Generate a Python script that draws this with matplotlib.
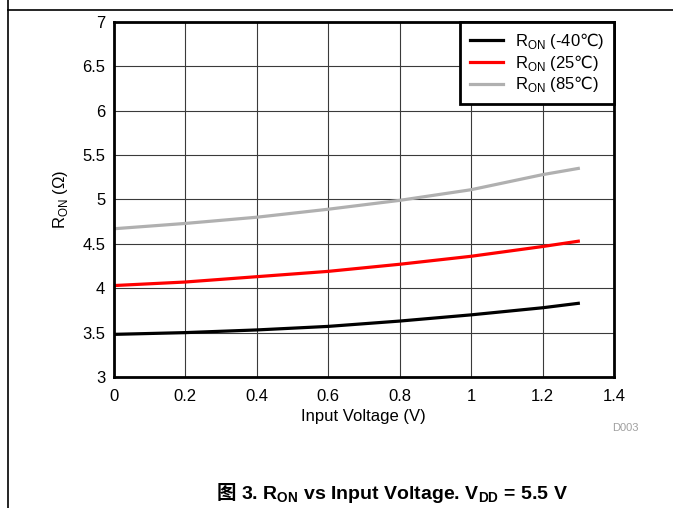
import matplotlib
matplotlib.use("Agg")
import matplotlib.pyplot as plt
from matplotlib.lines import Line2D

plt.rcParams['font.family'] = ['Liberation Sans', 'DejaVu Sans']
plt.rcParams['mathtext.fontset'] = 'custom'
plt.rcParams['mathtext.rm'] = 'Liberation Sans'
plt.rcParams['mathtext.bf'] = 'Liberation Sans:bold'
plt.rcParams['mathtext.sf'] = 'DejaVu Sans'

# %% Data.
vin = [0.0, 0.2, 0.4, 0.6, 0.8, 1.0, 1.2, 1.3]
ron_m40 = [3.48, 3.50, 3.53, 3.57, 3.63, 3.70, 3.78, 3.83]
ron_25 = [4.03, 4.07, 4.13, 4.19, 4.27, 4.36, 4.47, 4.53]
ron_85 = [4.67, 4.73, 4.80, 4.89, 4.99, 5.11, 5.28, 5.35]
series_labels = [r'R$_{\mathrm{ON}}$ (-40$\mathsf{℃}$)',
                 r'R$_{\mathrm{ON}}$ (25$\mathsf{℃}$)',
                 r'R$_{\mathrm{ON}}$ (85$\mathsf{℃}$)']
series_colors = ['#000000', '#ff0000', '#b0b0b0']

x_ticks = [0, 0.2, 0.4, 0.6, 0.8, 1.0, 1.2, 1.4]
x_tick_labels = ['0', '0.2', '0.4', '0.6', '0.8', '1', '1.2', '1.4']
y_ticks = [3, 3.5, 4, 4.5, 5, 5.5, 6, 6.5, 7]
y_tick_labels = ['3', '3.5', '4', '4.5', '5', '5.5', '6', '6.5', '7']

# %% Plot.
fig = plt.figure(figsize=(6.73, 5.08), dpi=100)
ax = fig.add_axes([0.1687, 0.2579, 0.7437, 0.6988])

for ys, lab, col in zip([ron_m40, ron_25, ron_85], series_labels, series_colors):
    ax.plot(vin, ys, color=col, linewidth=2.3, label=lab, zorder=3)

ax.set_xlim(0, 1.4)
ax.set_ylim(3, 7)
ax.set_xticks(x_ticks)
ax.set_xticklabels(x_tick_labels)
ax.set_yticks(y_ticks)
ax.set_yticklabels(y_tick_labels)
ax.tick_params(length=0, labelsize=12)
ax.tick_params(axis='x', pad=9)
ax.tick_params(axis='y', pad=6)
ax.grid(True, color='#3a3a3a', linewidth=0.8)
for s in ax.spines.values():
    s.set_linewidth(2)
    s.set_color('black')
    s.set_zorder(4)

ax.set_xlabel('Input Voltage (V)', fontsize=12, labelpad=3)
ax.set_ylabel(r'R$_{\mathrm{ON}}$ ($\Omega$)', fontsize=12, labelpad=9)

leg = ax.legend(loc='upper right', borderaxespad=0, fancybox=False, fontsize=12,
                handlelength=2.0, handletextpad=0.75, labelspacing=0.1,
                borderpad=0.55, framealpha=1)
leg.get_frame().set_edgecolor('black')
leg.get_frame().set_linewidth(2)
for h in leg.get_lines():
    h.set_linewidth(2.3)

fig.text(625 / 673, 1 - 428 / 508, 'D003', color='#a0a0a0', fontsize=8, ha='center', va='center')

# caption: CJK glyph drawn on its own, the rest placed right after it
cap_y = 1 - 499 / 508
t1 = fig.text(217 / 673, cap_y, '图 ', family=['Noto Sans CJK SC'], fontweight='bold',
              fontsize=14, ha='left', va='baseline')
fig.canvas.draw()
bb = t1.get_window_extent()
fig.text(bb.x1 / fig.bbox.width, cap_y,
         r'3. R$_{\mathbf{ON}}$ vs Input Voltage. V$_{\mathbf{DD}}$ = 5.5 V',
         fontweight='bold', fontsize=14, ha='left', va='baseline')

# frame lines around the figure area
fig.add_artist(Line2D([8 / 673, 8 / 673], [0, 1], color='black', linewidth=1.2))
fig.add_artist(Line2D([8 / 673, 1], [1 - 9.5 / 508, 1 - 9.5 / 508], color='black', linewidth=1.2))

fig.savefig('out.png', dpi=100)
